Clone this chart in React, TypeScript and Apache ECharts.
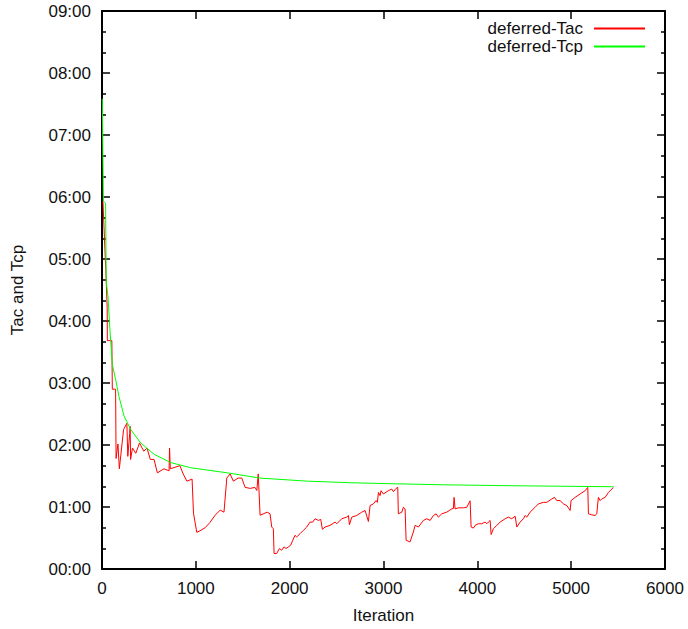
import React, { useEffect, useRef } from "react";
import * as echarts from "echarts";

// deferred-Tac: [iteration, minutes]
const tacSeries: [number, number][] = [
  [10, 356], [45, 279], [55, 253], [57, 221], [105, 221], [110, 174], [145, 174],
  [150, 107], [170, 121], [185, 97], [230, 135], [265, 141], [275, 109], [295, 131],
  [300, 138], [305, 106], [325, 117], [360, 112], [400, 122], [445, 114], [480, 117],
  [515, 106], [555, 106], [590, 93], [660, 97], [715, 95], [720, 117], [728, 97],
  [830, 100], [865, 92], [905, 85], [960, 87], [975, 54], [1010, 35.5], [1045, 37],
  [1100, 40], [1150, 45], [1205, 52], [1260, 57], [1300, 55], [1330, 88], [1365, 92],
  [1400, 85], [1450, 88], [1490, 88], [1525, 79], [1580, 78], [1630, 79], [1650, 76],
  [1665, 92], [1685, 52], [1760, 55], [1791, 53.4], [1809, 40.6], [1826, 39], [1834, 15],
  [1862, 15], [1890, 19.8], [1915, 18.2], [1940, 21.4], [1961, 19.8], [1986, 21.4],
  [2011, 23], [2033, 27.8], [2057, 32.6], [2075, 31], [2111, 34.2], [2146, 37.4],
  [2182, 40.6], [2217, 45.4], [2246, 45.4], [2271, 48.6], [2306, 47], [2331, 48],
  [2349, 38.4], [2377, 40.6], [2430, 42.2], [2484, 45.4], [2502, 43.8], [2555, 48.6],
  [2608, 50.2], [2626, 51.8], [2637, 42.9], [2662, 50.2], [2715, 51.8], [2768, 55],
  [2804, 56.6], [2839, 46], [2857, 61.4], [2892, 63], [2921, 66.2], [2935, 64.5],
  [2946, 74.1], [2963, 71], [2974, 75.8], [2999, 72.6], [3052, 75.8], [3088, 77.4],
  [3106, 74.8], [3134, 78], [3152, 79], [3158, 53.4], [3195, 55], [3212, 59.8],
  [3230, 58.2], [3241, 27.8], [3283, 26.2], [3318, 35.8], [3337, 42.2], [3372, 40.6],
  [3425, 47], [3461, 48.6], [3497, 47], [3532, 51.8], [3561, 53.4], [3585, 50.2],
  [3621, 53.4], [3674, 55], [3728, 58.2], [3745, 58.5], [3752, 69.3], [3763, 58.2],
  [3798, 59.2], [3852, 59.2], [3888, 59.8], [3923, 66], [3934, 40.6], [3958, 39.6],
  [3976, 42.2], [4011, 43.8], [4047, 43.8], [4083, 45.4], [4101, 43.8], [4118, 45.4],
  [4136, 47], [4147, 33.3], [4171, 39], [4207, 42.2], [4243, 45.4], [4296, 48.6],
  [4331, 50.2], [4367, 48.6], [4403, 51.1], [4421, 40.6], [4456, 45.4], [4491, 48.6],
  [4509, 51.8], [4527, 50.2], [4562, 55], [4616, 59.8], [4651, 63], [4704, 64.5],
  [4740, 64.5], [4794, 67.8], [4822, 69.3], [4847, 66.2], [4882, 66.2], [4918, 63],
  [4954, 61.4], [4989, 56.6], [4999, 66.2], [5042, 69.3], [5095, 72.6], [5149, 75.8],
  [5177, 79], [5184, 53.4], [5220, 52.4], [5255, 51.8], [5273, 53.4], [5290, 69.3],
  [5309, 66.2], [5326, 67.8], [5362, 69.3], [5397, 74.1], [5451, 79],
];

// deferred-Tcp: [iteration, minutes]
const tcpSeries: [number, number][] = [
  [3, 455], [15, 356], [38, 354], [45, 279], [64, 263], [85, 231], [110, 198],
  [146, 183], [181, 167], [235, 148], [306, 135], [412, 122], [555, 111], [732, 103],
  [945, 98], [1340, 93], [1680, 88], [2190, 85], [2640, 83.5], [3100, 82.5],
  [3640, 81.5], [4350, 80.6], [5450, 79.6],
];

const seriesNames = ["deferred-Tac", "deferred-Tcp"];
const xTicks = { min: 0, max: 6000, interval: 1000 };
const yTicks = { min: 0, max: 540, interval: 60 };

const pad = (n: number) => (n < 10 ? "0" + n : "" + n);
const fmtTime = (v: number) => pad(Math.floor(v / 60)) + ":" + pad(Math.round(v % 60));

const FONT = "Liberation Sans, Arial, sans-serif";
const TXT = "#111";

export default function App() {
  const ref = useRef<HTMLDivElement>(null);
  useEffect(() => {
    document.body.style.margin = "0";
    const chart = echarts.init(ref.current!, null, { renderer: "svg" });
    const axisLine = { show: true, onZero: false, lineStyle: { color: "#000", width: 2 } };
    const axisTick = { show: true, inside: true, length: 8, lineStyle: { color: "#000", width: 1.5 } };
    const minorTick = { show: true, splitNumber: 3, length: 4, lineStyle: { color: "#000", width: 1.5 } };
    chart.setOption({
      animation: false,
      textStyle: { fontFamily: FONT },
      grid: { left: 102, right: 23, top: 11, bottom: 55, containLabel: false },
      legend: {
        orient: "vertical",
        right: 38,
        top: 15,
        align: "right",
        itemWidth: 51,
        itemHeight: 2,
        itemGap: 1,
        icon: "rect",
        data: seriesNames,
        textStyle: { fontSize: 17, color: TXT, fontFamily: FONT, padding: [0, 6, 0, 0] },
      },
      xAxis: [
        {
          type: "value",
          ...xTicks,
          position: "bottom",
          name: "Iteration",
          nameLocation: "middle",
          nameGap: 38,
          nameTextStyle: { fontSize: 17, color: TXT, fontFamily: FONT },
          axisLine,
          axisTick,
          splitLine: { show: false },
          axisLabel: { fontSize: 17, color: TXT, margin: 11, fontFamily: FONT, formatter: (v: number) => String(v) },
        },
        {
          type: "value",
          ...xTicks,
          position: "top",
          axisLine,
          axisTick,
          splitLine: { show: false },
          axisLabel: { show: false },
        },
      ],
      yAxis: [
        {
          type: "value",
          ...yTicks,
          position: "left",
          name: "Tac and Tcp",
          nameLocation: "middle",
          nameGap: 76,
          nameTextStyle: { fontSize: 17, color: TXT, fontFamily: FONT },
          axisLine,
          axisTick,
          minorTick,
          splitLine: { show: false },
          minorSplitLine: { show: false },
          axisLabel: { fontSize: 17, color: TXT, margin: 11, fontFamily: FONT, formatter: fmtTime },
        },
        {
          type: "value",
          ...yTicks,
          position: "right",
          axisLine,
          axisTick,
          minorTick,
          splitLine: { show: false },
          minorSplitLine: { show: false },
          axisLabel: { show: false },
        },
      ],
      series: [
        {
          name: seriesNames[0],
          type: "line",
          xAxisIndex: 0,
          yAxisIndex: 0,
          data: tacSeries,
          showSymbol: false,
          symbol: "none",
          color: "#ff0000",
          lineStyle: { color: "#ff0000", width: 1 },
        },
        {
          name: seriesNames[1],
          type: "line",
          xAxisIndex: 0,
          yAxisIndex: 0,
          data: tcpSeries,
          showSymbol: false,
          symbol: "none",
          color: "#00ff00",
          lineStyle: { color: "#00ff00", width: 1 },
        },
      ],
    });
    return () => chart.dispose();
  }, []);
  return <div ref={ref} style={{ width: 688, height: 629 }} />;
}
